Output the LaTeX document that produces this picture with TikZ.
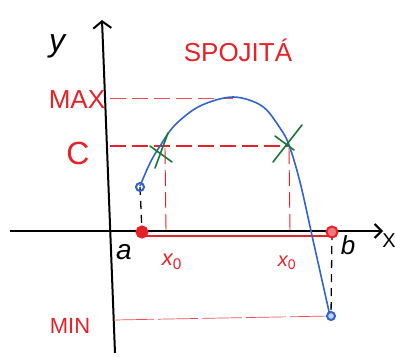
\documentclass[tikz,border=0pt]{standalone}
\usepackage{fontspec}
\setmainfont{Liberation Sans}
\usetikzlibrary{arrows.meta}
\definecolor{pred}{RGB}{232,32,40}
\definecolor{pblue}{RGB}{50,100,200}
\definecolor{pgreen}{RGB}{25,120,50}
\tikzset{
  axis/.style={black,line width=2pt},
  rdash/.style={pred,line width=1pt,dash pattern=on 16pt off 6pt},
  rlab/.style={pred,font=\itshape},
  klab/.style={black,font=\itshape},
  kdash/.style={black,line width=1.3pt,dash pattern=on 8pt off 6pt},
  dot/.style={circle,inner sep=0pt,minimum size=8pt,line width=2pt},
  gx/.style={pgreen,line width=1.6pt,line cap=round},
}
\begin{document}
\begin{tikzpicture}[x=1pt,y=-1pt]
\useasboundingbox (0,0) rectangle (395,356);
% axes
\coordinate (xs) at (10,231);
\coordinate (xe) at (383,231);
\coordinate (ys) at (115,353);
\coordinate (ye) at (102,20);
\draw[axis,-{Straight Barb[length=7pt,width=14pt]}] (xs) -- (xe);
\draw[axis,-{Straight Barb[length=7pt,width=18pt]}] (ys) -- (ye);
\node[klab,font=\itshape\fontsize{32}{32}\selectfont] (ylab) at (57,46) {y};
\node[klab,font=\fontsize{20}{20}\selectfont] (xlab) at (389,241) {X};
% title
\node[rlab,font=\fontsize{26}{26}\selectfont] (title) at (238,50) {SPOJITÁ};
% key points
\coordinate (A) at (140,187);
\coordinate (Aa) at (142,232);
\coordinate (B) at (331,316);
\coordinate (Bb) at (332,232);
\coordinate (P2) at (289,146);
\coordinate (T) at (233,98);
% dashed guides
\node[rlab,font=\fontsize{26}{26}\selectfont] (max) at (77,100) {MAX};
\node[rlab,font=\fontsize{32}{32}\selectfont] (c) at (78,153) {C};
\node[rlab,font=\fontsize{22}{22}\selectfont] (min) at (70,326) {MIN};
\coordinate (maxs) at (110,98);
\coordinate (cs) at (110,146);
\coordinate (mins) at (114,320);
\draw[rdash,line width=0.8pt,pred!80] (maxs) -- (T);
\draw[rdash,line width=1.3pt] (cs) -- (P2);
\draw[rdash,line width=0.7pt,pred!80,dash pattern=on 40pt off 4pt] (mins) -- (B);
\coordinate (x1) at (166,232);
\coordinate (x2) at (290,232);
\coordinate (x1t) at (165,148);
\coordinate (x2t) at (289,148);
\draw[rdash,line width=0.9pt] (x1t) -- (x1);
\draw[rdash,line width=0.9pt] (x2t) -- (x2);
% red interval
\draw[pred,line width=2pt] ([yshift=-4pt]Aa) -- ([yshift=-4pt]Bb);
% black dashed
\draw[kdash] (A) -- (Aa);
\draw[kdash] (Bb) -- (B);
% curve
\draw[pblue,line width=1.6pt] plot[smooth,tension=0.55] coordinates {
 (140,186) (150,163) (160,146) (175,125) (200,106)
 (233,97) (262,106) (280,128) (289,145) (300,182) (313,240) (330,316)};
% end dots
\node[dot,draw=pblue] (dA) at (A) {};
\node[dot,draw=pblue,fill=pblue!30] (dB) at (B) {};
\node[dot,draw=pred,fill=pred,minimum size=11pt] (dAa) at (Aa) {};
\node[dot,draw=pred,fill=pred!60,minimum size=11pt] (dBb) at (Bb) {};
% green crosses
\draw[gx] (150,146) -- (172,162);
\draw[gx] (155,168) -- (168,133);
\draw[gx] (275,136) -- (294,150);
\draw[gx] (273,162) -- (302,125);
% labels
\node[klab,font=\itshape\fontsize{28}{28}\selectfont] (alab) at (124,252) {a};
\node[klab,font=\itshape\fontsize{26}{26}\selectfont] (blab) at (348,245) {b};
\node[rlab,font=\itshape\fontsize{22}{22}\selectfont] (x0a) at (172,262) {x$_{\mathrm 0}$};
\node[rlab,font=\itshape\fontsize{20}{20}\selectfont] (x0b) at (287,263) {x$_{\mathrm 0}$};
\end{tikzpicture}
\end{document}
